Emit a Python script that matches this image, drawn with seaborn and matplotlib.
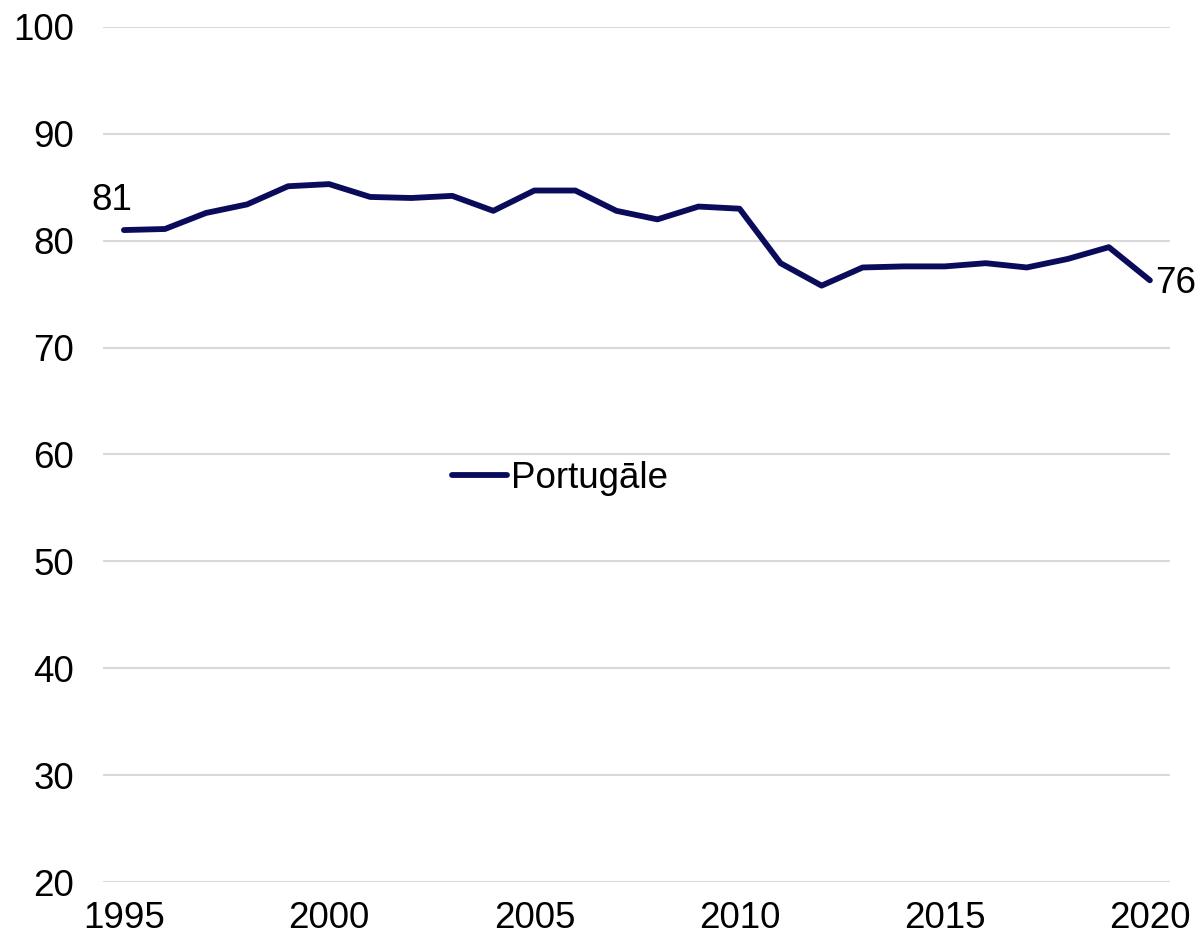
import matplotlib
matplotlib.use("Agg")
import matplotlib.pyplot as plt
import seaborn as sns
import pandas as pd

# Data
years = list(range(1995, 2021))
values = [81.0, 81.1, 82.6, 83.4, 85.1, 85.3, 84.1, 84.0, 84.2, 82.8,
          84.7, 84.7, 82.8, 82.0, 83.2, 83.0, 77.9, 75.8, 77.5, 77.6,
          77.6, 77.9, 77.5, 78.3, 79.4, 76.3]
seriesName = "Portugāle"
yTicks = [20, 30, 40, 50, 60, 70, 80, 90, 100]
xTicks = [1995, 2000, 2005, 2010, 2015, 2020]

df = pd.DataFrame({"year": years, "value": values, "series": seriesName})

sns.set_style("white")
plt.rcParams["font.family"] = ["Liberation Sans", "DejaVu Sans"]
plt.rcParams["text.color"] = "black"
plt.rcParams["xtick.color"] = "black"
plt.rcParams["ytick.color"] = "black"

fs = 26.5
lineColor = "#0b0b5c"
fig = plt.figure(figsize=(12.01, 9.43), dpi=100)
ax = fig.add_axes([103 / 1201, 1 - 882 / 943, 1067 / 1201, 855 / 943])

sns.lineplot(data=df, x="year", y="value", hue="series",
             palette=[lineColor], linewidth=4.2, ax=ax)

ax.set_xlim(1994.49, 2020.49)
ax.set_ylim(20, 100)
ax.set_xticks(xTicks)
ax.set_yticks(yTicks)
ax.grid(axis="y", color="#d9d9d9", linewidth=1.5)
ax.set_axisbelow(True)
for s in ax.spines.values():
    s.set_visible(False)
ax.tick_params(axis="y", length=0, pad=21, labelsize=fs)
ax.tick_params(axis="x", length=0, pad=14, labelsize=fs)
ax.set_xlabel("")
ax.set_ylabel("")

# end labels
ax.annotate(f"{values[0]:.0f}", (years[0], values[0]), xytext=(-9, 9),
            textcoords="offset points", ha="center", va="bottom", fontsize=fs)
ax.annotate(f"{values[-1]:.0f}", (years[-1], values[-1]), xytext=(4, -2),
            textcoords="offset points", ha="left", va="center", fontsize=fs)

leg = ax.legend(loc="center left", bbox_to_anchor=(0.327, 0.4725),
                frameon=False, fontsize=fs, handlelength=1.5,
                handletextpad=0.1, borderpad=0, borderaxespad=0)

fig.savefig("out.png", dpi=100)
